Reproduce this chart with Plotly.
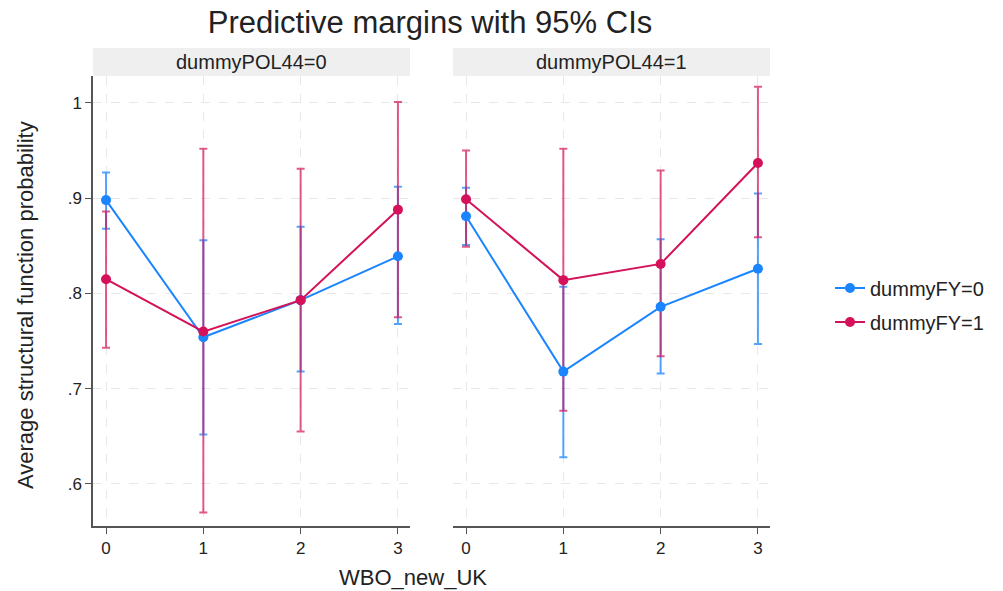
import plotly.graph_objects as go

x_vals = [0, 1, 2, 3]
panels = ["dummyPOL44=0", "dummyPOL44=1"]
series_names = ["dummyFY=0", "dummyFY=1"]

# panel 0 (dummyPOL44=0)
p0_fy0 = [0.898, 0.754, 0.793, 0.839]
p0_fy0_lo = [0.868, 0.652, 0.718, 0.768]
p0_fy0_hi = [0.927, 0.856, 0.870, 0.912]
p0_fy1 = [0.815, 0.760, 0.793, 0.888]
p0_fy1_lo = [0.743, 0.570, 0.655, 0.775]
p0_fy1_hi = [0.886, 0.952, 0.931, 1.001]

# panel 1 (dummyPOL44=1)
p1_fy0 = [0.881, 0.718, 0.786, 0.826]
p1_fy0_lo = [0.851, 0.628, 0.716, 0.747]
p1_fy0_hi = [0.911, 0.807, 0.857, 0.905]
p1_fy1 = [0.899, 0.814, 0.831, 0.937]
p1_fy1_lo = [0.849, 0.677, 0.734, 0.859]
p1_fy1_hi = [0.950, 0.952, 0.929, 1.017]

y_ticks = [0.6, 0.7, 0.8, 0.9, 1.0]
y_tick_labels = [".6", ".7", ".8", ".9", "1"]

colors = ["#1a85ff", "#d41159"]
ci_colors = ["rgba(26,133,255,0.75)", "rgba(212,17,89,0.7)"]

data = [
    [(p0_fy0, p0_fy0_lo, p0_fy0_hi), (p0_fy1, p0_fy1_lo, p0_fy1_hi)],
    [(p1_fy0, p1_fy0_lo, p1_fy0_hi), (p1_fy1, p1_fy1_lo, p1_fy1_hi)],
]

fig = go.Figure()
for pi in range(2):
    xa = "x" if pi == 0 else "x2"
    ya = "y" if pi == 0 else "y2"
    for si in range(2):
        m, lo, hi = data[pi][si]
        fig.add_trace(go.Scatter(
            x=x_vals, y=m, xaxis=xa, yaxis=ya, mode="markers",
            marker=dict(size=1, opacity=0),
            error_y=dict(type="data", symmetric=False,
                         array=[h - v for h, v in zip(hi, m)],
                         arrayminus=[v - l for v, l in zip(m, lo)],
                         color=ci_colors[si], thickness=2, width=4),
            showlegend=False, hoverinfo="skip"))
    for si in range(2):
        m, lo, hi = data[pi][si]
        fig.add_trace(go.Scatter(
            x=x_vals, y=m, xaxis=xa, yaxis=ya, mode="lines+markers",
            line=dict(color=colors[si], width=2),
            marker=dict(color=colors[si], size=10),
            name=series_names[si], showlegend=(pi == 0),
            legendgroup=series_names[si]))

# page body margin is removed by post_script, so figure sits at (0,0)
W, H = 1003, 591
ml, mr, mt, mb = 93, 1003 - 770, 76, 591 - 526
pw = W - ml - mr
ph = H - mt - mb
d0 = [0, 317 / pw]
d1 = [360 / pw, 1]


def px_x(px):
    return (px - ml) / pw


def px_y(py):
    return (526 - py) / ph


grid = dict(showgrid=True, gridcolor="#e8e8e8", griddash="dash", gridwidth=1.2, zeroline=False)
xcommon = dict(range=[-0.134, 3.124], tickvals=x_vals, ticktext=[str(v) for v in x_vals],
               ticks="outside", ticklen=6, tickcolor="#555", showline=True, linecolor="#555",
               linewidth=1.5, tickfont=dict(size=17, color="#222"), **grid)
ycommon = dict(range=[0.5559, 1.0283], tickvals=y_ticks, **grid)

fig.update_layout(
    width=W, height=H,
    margin=dict(l=ml, r=mr, t=mt, b=mb, autoexpand=False),
    plot_bgcolor="white", paper_bgcolor="white",
    font=dict(family="Liberation Sans, Arial, sans-serif", color="#222"),
    title=dict(text="Predictive margins with 95% CIs", x=430 / W, xanchor="center",
               y=1 - 22 / H, yanchor="middle", font=dict(size=31, color="#222")),
    xaxis=dict(domain=d0, anchor="y", **xcommon),
    xaxis2=dict(domain=d1, anchor="y2", **xcommon),
    yaxis=dict(domain=[0, 1], anchor="x", ticktext=y_tick_labels, ticks="outside", ticklen=6,
               tickcolor="#555", showline=True, linecolor="#555", linewidth=1.5,
               tickfont=dict(size=17, color="#222"), **ycommon),
    yaxis2=dict(domain=[0, 1], anchor="x2", showticklabels=False, ticks="", showline=False,
                matches="y", **ycommon),
    legend=dict(x=px_x(830), y=px_y(305), xanchor="left", yanchor="middle",
                font=dict(size=20, color="#222"), bgcolor="rgba(0,0,0,0)", tracegroupgap=5),
    showlegend=True,
)

# strip headers
y0s = px_y(76)
y1s = px_y(48)
for pi, d in enumerate([d0, d1]):
    fig.add_shape(type="rect", xref="paper", yref="paper", x0=d[0], x1=d[1], y0=y0s, y1=y1s,
                  fillcolor="#efefef", line=dict(width=0), layer="below")
    fig.add_annotation(text=panels[pi], xref="paper", yref="paper", x=(d[0] + d[1]) / 2,
                       y=(y0s + y1s) / 2, showarrow=False, xanchor="center", yanchor="middle",
                       font=dict(size=20, color="#222"))

fig.add_annotation(text="WBO_new_UK", xref="paper", yref="paper", x=px_x(413),
                   y=px_y(577), showarrow=False, xanchor="center", yanchor="middle",
                   font=dict(size=22, color="#222"))
fig.add_annotation(text="Average structural function probability", xref="paper", yref="paper",
                   x=px_x(25), y=px_y(305), showarrow=False, textangle=-90,
                   xanchor="center", yanchor="middle", font=dict(size=22, color="#222"))

fig.write_html("out.html", config={"displayModeBar": False},
               post_script="document.body.style.margin='0';document.body.style.overflow='hidden';")
